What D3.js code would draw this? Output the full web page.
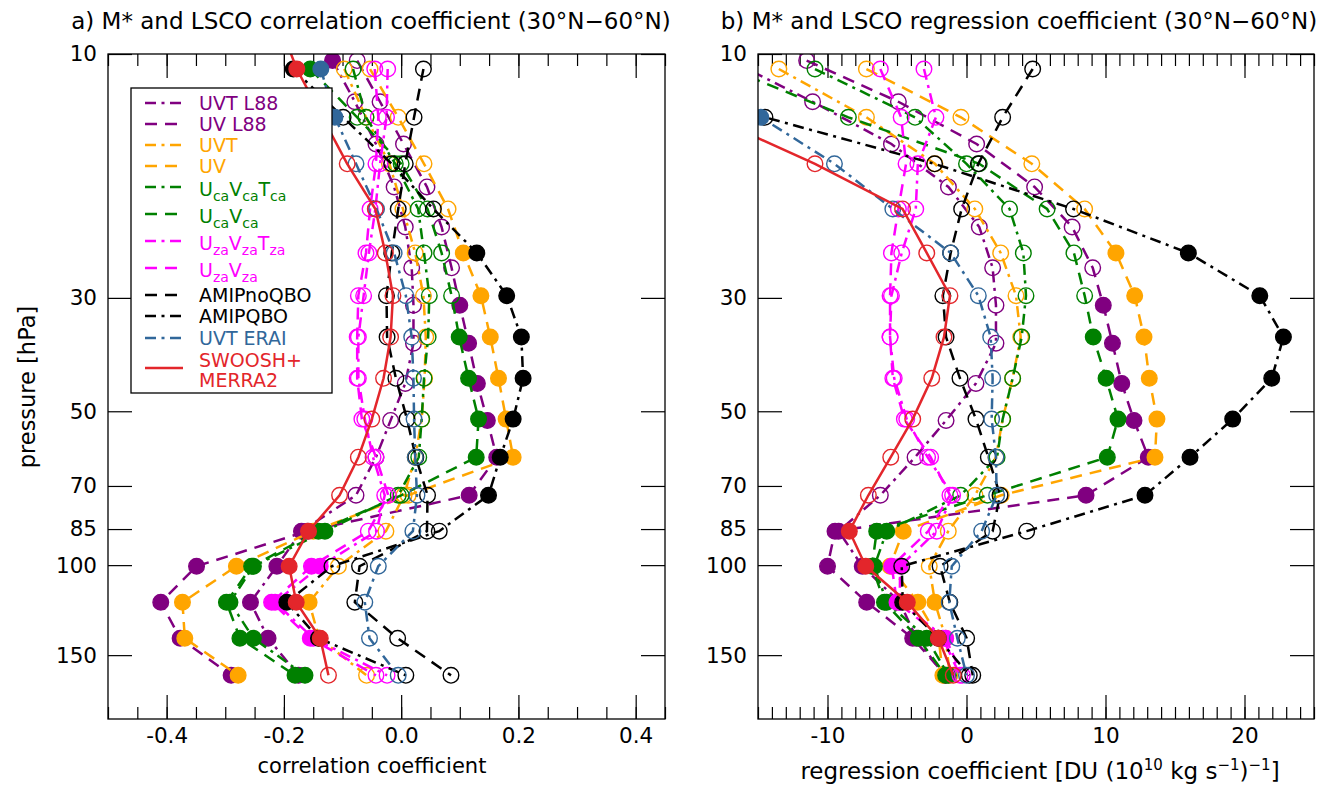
<!DOCTYPE html>
<html>
<head>
<meta charset="utf-8">
<title>M* and LSCO</title>
<script src="https://d3js.org/d3.v7.min.js"></script>
<style>
    body { margin: 0; background: #fff; }
    text { font-family: "DejaVu Sans", sans-serif; }
</style>
</head>
<body>
<div id="chart"></div>
<script>
// pressure levels [hPa]
const plev    = [10.7, 13.3, 16.4, 20.1, 24.5, 29.7, 35.8, 43.1, 51.8, 61.5, 73.0, 85.8, 100.5, 118.2, 139.0, 164.3];
const plevL88 = [10.3, 12.4, 15.0, 18.2, 21.8, 26.2, 31.0, 36.8, 44.1, 52.1, 61.5, 73.0, 85.8, 100.5, 118.2, 139.0, 164.3];
const plevSW  = [8.7, 10.7, 13.3, 16.4, 20.1, 24.5, 29.7, 35.8, 43.1, 51.8, 61.5, 73.0, 85.8, 100.5, 118.2, 139.0, 164.3];

// a) correlation coefficients
const uvtL88_r    = [-0.117, -0.079, -0.043, -0.012, 0.007, 0.018, 0.021, 0.021, 0.007, -0.018, -0.043, -0.077, -0.170, -0.212, -0.257, -0.227, -0.175];
const uvL88_r     = [-0.075, -0.036, 0.004, 0.044, 0.069, 0.086, 0.100, 0.115, 0.130, 0.147, 0.163, 0.116, -0.160, -0.349, -0.410, -0.377, -0.290];
const uvt_r       = [-0.097, -0.060, -0.020, 0.003, 0.024, 0.038, 0.042, 0.040, 0.035, 0.024, 0.005, -0.026, -0.107, -0.157, -0.140, -0.059];
const uv_r        = [-0.053, -0.005, 0.039, 0.080, 0.106, 0.136, 0.152, 0.166, 0.179, 0.191, 0.012, -0.150, -0.281, -0.373, -0.369, -0.278];
const ucavcatca_r = [-0.082, -0.060, -0.010, 0.029, 0.039, 0.048, 0.046, 0.039, 0.035, 0.030, -0.005, -0.130, -0.252, -0.292, -0.252, -0.164];
const ucavca_r    = [-0.155, -0.075, 0.000, 0.045, 0.069, 0.086, 0.099, 0.115, 0.132, 0.128, 0.000, -0.141, -0.255, -0.298, -0.275, -0.181];
const uzavzatza_r = [-0.023, -0.025, -0.036, -0.044, -0.055, -0.064, -0.073, -0.073, -0.062, -0.048, -0.028, -0.042, -0.138, -0.215, -0.150, -0.024];
const uzavza_r    = [-0.045, -0.039, -0.043, -0.053, -0.060, -0.073, -0.075, -0.075, -0.067, -0.043, -0.022, -0.056, -0.153, -0.221, -0.155, -0.043];
const amipnoqbo_r = [0.038, 0.022, 0.007, -0.005, -0.016, -0.025, -0.024, -0.009, 0.010, 0.025, 0.045, 0.044, -0.071, -0.079, -0.006, 0.085];
const amipqbo_r   = [-0.184, -0.099, -0.016, 0.055, 0.129, 0.180, 0.205, 0.208, 0.191, 0.169, 0.149, 0.065, -0.118, -0.195, -0.141, 0.008];
const erai_r      = [-0.137, -0.113, -0.077, -0.042, -0.012, 0.008, 0.018, 0.021, 0.022, 0.024, 0.027, 0.020, -0.039, -0.062, -0.054, -0.005];
const swoosh_r    = [-0.208, -0.178, null, -0.092, -0.044, -0.027, -0.014, -0.018, -0.030, -0.050, -0.073, -0.105, -0.158, -0.191, -0.179, -0.138, -0.124];

// b) regression coefficients [DU (1e10 kg/s)^-1]
const uvtL88_b    = [-17.0, -11.07, -5.4, -1.3, 0.92, 1.88, 2.12, 2.12, 0.68, -1.47, -3.7, -6.2, -9.2, -7.5, -4.8, -3.6, -1.6];
const uvL88_b     = [-11.5, -4.9, 0.73, 4.9, 7.6, 9.08, 9.84, 10.5, 11.17, 12.05, 13.08, 8.6, -9.46, -10.0, -7.18, -3.87, -1.5];
const uvt_b       = [-13.5, -7.2, -2.27, 0.6, 2.46, 3.56, 3.9, 3.32, 2.6, 2.12, 0.61, -1.31, -2.68, -2.27, -1.5, -1.2];
const uv_b        = [-7.2, -0.4, 4.7, 8.5, 10.75, 12.1, 12.77, 13.15, 13.7, 13.56, 2.5, -4.55, -5.5, -3.5, -2.0, -1.7];
const ucavcatca_b = [-10.9, -3.7, 0.0, 3.1, 4.09, 4.28, 3.97, 3.32, 2.6, 2.2, -0.42, -5.74, -6.63, -5.74, -2.86, -1.3];
const ucavca_b    = [-17.0, -8.5, 0.92, 5.8, 7.73, 8.5, 9.12, 10.04, 10.9, 10.13, 1.5, -6.46, -6.8, -5.9, -3.47, -1.5];
const uzavzatza_b = [-3.06, -2.2, -3.5, -3.65, -4.66, -5.4, -5.5, -5.2, -4.3, -2.8, -1.0, -2.14, -4.78, -4.8, -1.5, -0.3];
const uzavza_b    = [-6.2, -4.7, -4.35, -4.9, -5.4, -5.5, -5.5, -5.3, -4.47, -2.58, -1.19, -2.75, -5.38, -5.0, -1.7, -0.47];
const amipnoqbo_b = [4.76, 2.6, 0.85, -0.35, -1.14, -1.7, -1.47, -0.47, 0.68, 1.57, 2.41, 1.88, -1.9, -1.2, 0.01, 0.45];
const amipqbo_b   = [-30.0, -14.5, -2.3, 7.7, 15.96, 21.1, 22.8, 21.96, 19.15, 16.08, 12.84, 4.33, -4.66, -4.59, -2.03, 0.2];
const erai_b      = [-22.0, -14.8, -9.5, -5.3, -1.14, 0.85, 1.74, 1.88, 1.81, 2.12, 2.17, 1.09, -1.06, -1.24, -0.66, 0.0];
const swoosh_b    = [-35.0, -26.0, null, -10.9, -4.6, -2.86, -1.19, -1.62, -2.5, -3.87, -5.45, -7.06, -8.43, -7.25, -4.26, -2.03, -0.95];

// 1 = significant (filled marker), 0 = open marker
const uvtL88_sig    = [1,0,0,0,0,0,0,0,0,0,0,0,1,1,1,1,1];
const uvL88_sig     = [0,0,0,0,0,0,1,1,1,1,1,1,1,1,1,1,1];
const uvt_sig       = [0,0,0,0,0,0,0,0,0,0,0,0,0,1,1,0];
const uv_sig        = [0,0,0,0,1,1,1,1,1,1,0,1,1,1,1,1];
const ucavcatca_sig = [0,0,0,0,0,0,0,0,0,0,0,1,1,1,1,1];
const ucavca_sig    = [1,0,0,0,0,0,1,1,1,1,0,1,1,1,1,1];
const uzavzatza_sig = [0,0,0,0,0,0,0,0,0,0,0,0,1,1,1,0];
const uzavza_sig    = [0,0,0,0,0,0,0,0,0,0,0,0,1,1,1,0];
const amipnoqbo_sig = [0,0,0,0,0,0,0,0,0,0,0,0,0,0,0,0];
const amipqbo_sig   = [1,0,0,0,1,1,1,1,1,1,1,0,0,1,1,0];
const erai_sig      = [1,1,0,0,0,0,0,0,0,0,0,0,0,0,0,0];
const swoosh_sig    = [1,1,0,0,0,0,0,0,0,0,0,0,1,1,1,1,0];

// axis ticks
const pTicks  = [10, 30, 50, 70, 85, 100, 150];
const xTicksA = [-0.4, -0.2, 0.0, 0.2, 0.4];
const xTicksB = [-10, 0, 10, 20];

const DASH = "12,8";
const DASHDOT = "11,5.5,3,5.5";
const ERAI = "#31679a";
const RED = "#e3262b";

const series = [
    {name: [["UVT L88"]], color: "purple", dash: DASHDOT, lev: plevL88, r: uvtL88_r, b: uvtL88_b, sig: uvtL88_sig},
    {name: [["UV L88"]], color: "purple", dash: DASH, lev: plevL88, r: uvL88_r, b: uvL88_b, sig: uvL88_sig},
    {name: [["UVT"]], color: "orange", dash: DASHDOT, lev: plev, r: uvt_r, b: uvt_b, sig: uvt_sig},
    {name: [["UV"]], color: "orange", dash: DASH, lev: plev, r: uv_r, b: uv_b, sig: uv_sig},
    {name: [["U"],["ca",1],["V"],["ca",1],["T"],["ca",1]], color: "green", dash: DASHDOT, lev: plev, r: ucavcatca_r, b: ucavcatca_b, sig: ucavcatca_sig},
    {name: [["U"],["ca",1],["V"],["ca",1]], color: "green", dash: DASH, lev: plev, r: ucavca_r, b: ucavca_b, sig: ucavca_sig},
    {name: [["U"],["za",1],["V"],["za",1],["T"],["za",1]], color: "magenta", dash: DASHDOT, lev: plev, r: uzavzatza_r, b: uzavzatza_b, sig: uzavzatza_sig},
    {name: [["U"],["za",1],["V"],["za",1]], color: "magenta", dash: DASH, lev: plev, r: uzavza_r, b: uzavza_b, sig: uzavza_sig},
    {name: [["AMIPnoQBO"]], color: "black", dash: DASH, lev: plev, r: amipnoqbo_r, b: amipnoqbo_b, sig: amipnoqbo_sig},
    {name: [["AMIPQBO"]], color: "black", dash: DASHDOT, lev: plev, r: amipqbo_r, b: amipqbo_b, sig: amipqbo_sig},
    {name: [["UVT ERAI"]], color: ERAI, dash: DASHDOT, lev: plev, r: erai_r, b: erai_b, sig: erai_sig},
    {name: [["SWOOSH+"]], name2: "MERRA2", color: RED, dash: null, lev: plevSW, r: swoosh_r, b: swoosh_b, sig: swoosh_sig}
];

const width = 1338, height = 787;
const plotTop = 54, plotBottom = 719;

const svg = d3.select("#chart").append("svg")
    .attr("width", width).attr("height", height)
    .style("background", "#fff");

const y = d3.scaleLog().domain([10, 200]).range([plotTop, plotBottom]);

const panels = [
    {key: "r", left: 108, right: 665, domain: [-0.5, 0.45], ticks: xTicksA, minor: 0.05, titleX: 371,
     fmt: d => d.toFixed(1), title: "a) M* and LSCO correlation coefficient (30°N\u221260°N)"},
    {key: "b", left: 758, right: 1314, domain: [-15, 25], ticks: xTicksB, minor: 1, titleX: 1019,
     fmt: d => String(d), title: "b) M* and LSCO regression coefficient (30°N\u221260°N)"}
];

panels.forEach((pn, pi) => {
    const x = d3.scaleLinear().domain(pn.domain).range([pn.left, pn.right]);
    const g = svg.append("g");
    const clipId = "clip" + pi;
    svg.append("clipPath").attr("id", clipId)
        .append("rect").attr("x", pn.left).attr("y", plotTop)
        .attr("width", pn.right - pn.left).attr("height", plotBottom - plotTop);

    const minorTicks = d3.range(Math.ceil(pn.domain[0] / pn.minor - 1e-9), Math.floor(pn.domain[1] / pn.minor + 1e-9) + 1)
        .map(k => k * pn.minor);

    // ticks, all pointing inward
    g.append("g").attr("transform", `translate(0,${plotBottom})`)
        .call(d3.axisBottom(x).tickValues(pn.ticks).tickFormat(pn.fmt).tickSizeInner(-24).tickSizeOuter(0).tickPadding(9));
    g.append("g").attr("transform", `translate(0,${plotBottom})`)
        .call(d3.axisBottom(x).tickValues(minorTicks).tickFormat("").tickSizeInner(-12).tickSizeOuter(0));
    g.append("g").attr("transform", `translate(0,${plotTop})`)
        .call(d3.axisTop(x).tickValues(pn.ticks).tickFormat("").tickSizeInner(-24).tickSizeOuter(0));
    g.append("g").attr("transform", `translate(0,${plotTop})`)
        .call(d3.axisTop(x).tickValues(minorTicks).tickFormat("").tickSizeInner(-12).tickSizeOuter(0));
    g.append("g").attr("transform", `translate(${pn.left},0)`)
        .call(d3.axisLeft(y).tickValues(pTicks).tickFormat(d3.format("d")).tickSizeInner(-24).tickSizeOuter(0).tickPadding(11));
    g.append("g").attr("transform", `translate(${pn.right},0)`)
        .call(d3.axisRight(y).tickValues(pTicks).tickFormat("").tickSizeInner(-24).tickSizeOuter(0));

    g.selectAll(".domain").remove();
    g.selectAll(".tick line").attr("stroke", "#000").attr("stroke-width", 1.2);
    g.selectAll(".tick text").attr("font-size", 21.5).attr("fill", "#000")
        .style("font-family", "'DejaVu Sans', sans-serif");

    // data
    const plot = g.append("g").attr("clip-path", `url(#${clipId})`);
    series.forEach(s => {
        const pts = s.lev.map((p, i) => ({p: p, v: s[pn.key][i], f: s.sig[i]}))
            .filter(d => d.v !== null && d.v !== undefined);
        plot.append("path").datum(pts)
            .attr("d", d3.line().x(d => x(d.v)).y(d => y(d.p)))
            .attr("fill", "none")
            .attr("stroke", s.color)
            .attr("stroke-width", 2.5)
            .attr("stroke-dasharray", s.dash);
        plot.selectAll(null).data(pts).join("circle")
            .attr("cx", d => x(d.v)).attr("cy", d => y(d.p)).attr("r", 7.8)
            .attr("fill", d => d.f ? s.color : "none")
            .attr("stroke", s.color).attr("stroke-width", 1.4);
    });

    // frame
    g.append("rect").attr("x", pn.left).attr("y", plotTop)
        .attr("width", pn.right - pn.left).attr("height", plotBottom - plotTop)
        .attr("fill", "none").attr("stroke", "#000").attr("stroke-width", 1.3);

    // title
    svg.append("text").attr("x", pn.titleX).attr("y", 29)
        .attr("text-anchor", "middle").attr("font-size", 23)
        .text(pn.title);
});

// axis labels
svg.append("text").attr("transform", "translate(35,387) rotate(-90)")
    .attr("text-anchor", "middle").attr("font-size", 22.5).text("pressure [hPa]");
svg.append("text").attr("x", 372).attr("y", 773)
    .attr("text-anchor", "middle").attr("font-size", 21).text("correlation coefficient");
const xl = svg.append("text").attr("x", 1040).attr("y", 779)
    .attr("text-anchor", "middle").attr("font-size", 23);
xl.append("tspan").text("regression coefficient [DU (10");
xl.append("tspan").attr("dy", -9).attr("font-size", 15).text("10");
xl.append("tspan").attr("dy", 9).text(" kg s");
xl.append("tspan").attr("dy", -9).attr("font-size", 15).text("\u22121");
xl.append("tspan").attr("dy", 9).text(")");
xl.append("tspan").attr("dy", -9).attr("font-size", 15).text("\u22121");
xl.append("tspan").attr("dy", 9).text("]");

// legend
const lg = svg.append("g");
lg.append("rect").attr("x", 131).attr("y", 88).attr("width", 201).attr("height", 305)
    .attr("fill", "#fff").attr("stroke", "#000").attr("stroke-width", 1.3);
const rowY = [103, 124, 145, 166, 187, 214, 241, 268, 295, 316, 338, 368];
series.forEach((s, i) => {
    const ly = rowY[i];
    lg.append("line").attr("x1", 145).attr("x2", 183).attr("y1", ly).attr("y2", ly)
        .attr("stroke", s.color).attr("stroke-width", 2.5)
        .attr("stroke-dasharray", s.dash);
    const hasSub = s.name.some(p => p[1]);
    const t = lg.append("text").attr("x", 199)
        .attr("y", s.name2 ? ly - 1 : ly + (hasSub ? 9 : 7))
        .attr("font-size", 19).attr("fill", s.color);
    let sub = false;
    s.name.forEach(p => {
        const ts = t.append("tspan").text(p[0]);
        if (p[1] && !sub) { ts.attr("dy", 5).attr("font-size", 14); sub = true; }
        else if (p[1]) { ts.attr("font-size", 14); }
        else if (sub) { ts.attr("dy", -5); sub = false; }
    });
    if (s.name2) {
        lg.append("text").attr("x", 199).attr("y", ly + 19)
            .attr("font-size", 19).attr("fill", s.color).text(s.name2);
    }
});
</script>
</body>
</html>
